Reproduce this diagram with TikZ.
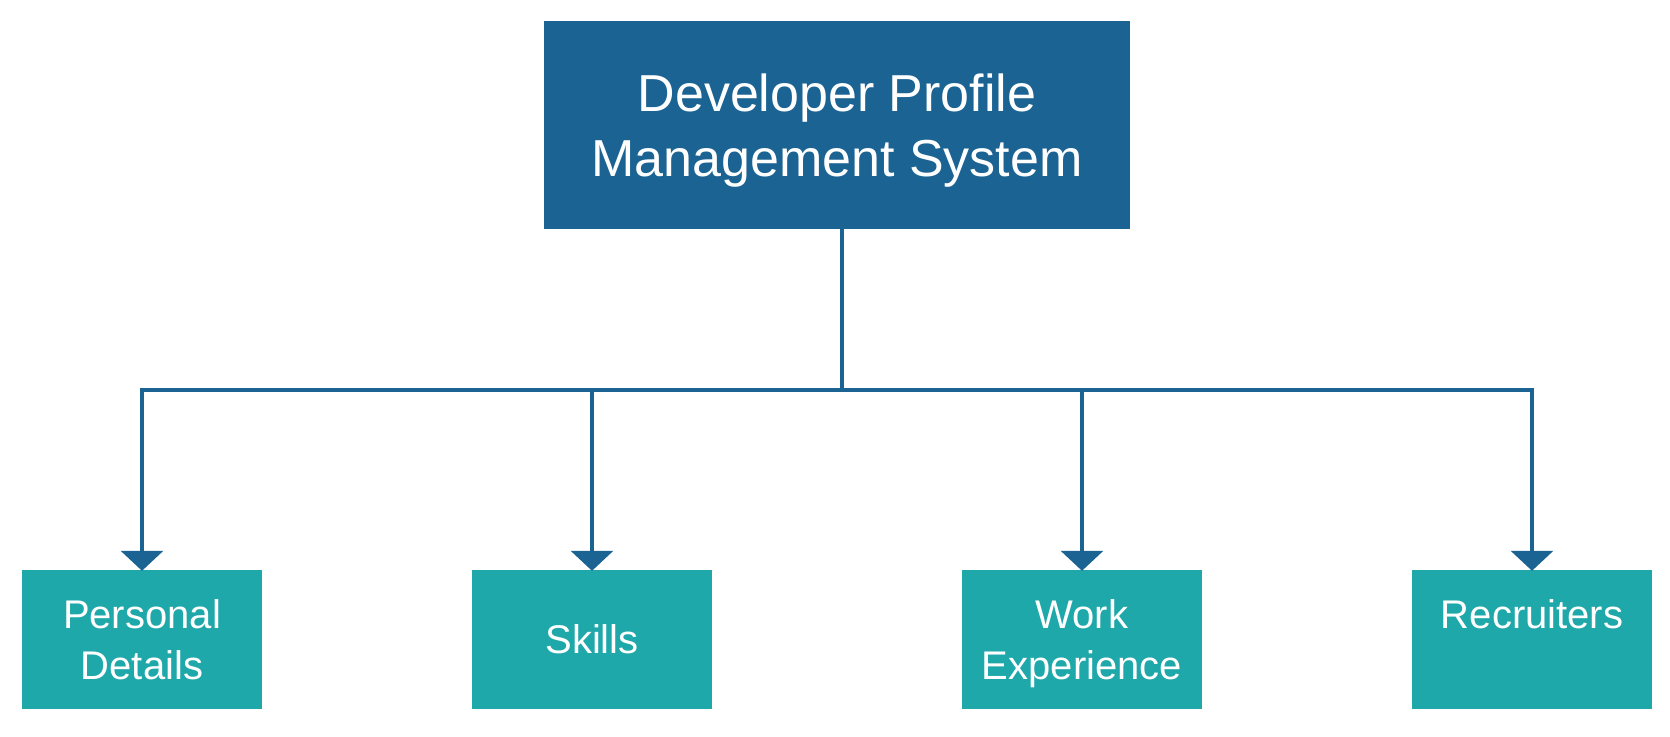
\documentclass[tikz,border=0pt]{standalone}
\usepackage{fontspec}
\setmainfont{Liberation Sans}
\usetikzlibrary{arrows.meta}
\definecolor{topblue}{RGB}{27,99,147}
\definecolor{teal}{RGB}{31,168,170}
\tikzset{
  topbox/.style={fill=topblue, draw=none, minimum width=586pt, minimum height=208pt, inner sep=0pt,
    text=white, align=center, font=\fontsize{52}{65}\selectfont, text height=117pt, text depth=15pt},
  childbox/.style={fill=teal, draw=none, minimum width=240pt, minimum height=139pt, inner sep=0pt,
    text=white, align=center, font=\fontsize{40}{51}\selectfont},
  twolines/.style={text height=94pt, text depth=15pt},
  firstline/.style={text height=15pt, text depth=38pt},
  conn/.style={draw=topblue, line width=3.5pt},
  arr/.style={conn, -{Triangle[width=42pt,length=20pt]}, shorten >=-1pt}
}
\begin{document}
\begin{tikzpicture}[x=1pt,y=-1pt]
\useasboundingbox (0,0) rectangle (1670,736);
\node[topbox] (top) at (837,125) {Developer Profile\\Management System};
\node[childbox, twolines] (pd) at (142,639.5) {Personal\\Details};
\node[childbox] (sk) at (592,639.5) {Skills};
\node[childbox, twolines] (we) at (1082,639.5) {Work\\Experience};
\node[childbox, firstline] (re) at (1532,639.5) {Recruiters};
\coordinate (j) at (842,390);
\draw[conn] ([xshift=5pt]top.south) -- (j);
\draw[arr] (j) -| (pd.north);
\draw[arr] (j) -| (sk.north);
\draw[arr] (j) -| (we.north);
\draw[arr] (j) -| (re.north);
\end{tikzpicture}
\end{document}
